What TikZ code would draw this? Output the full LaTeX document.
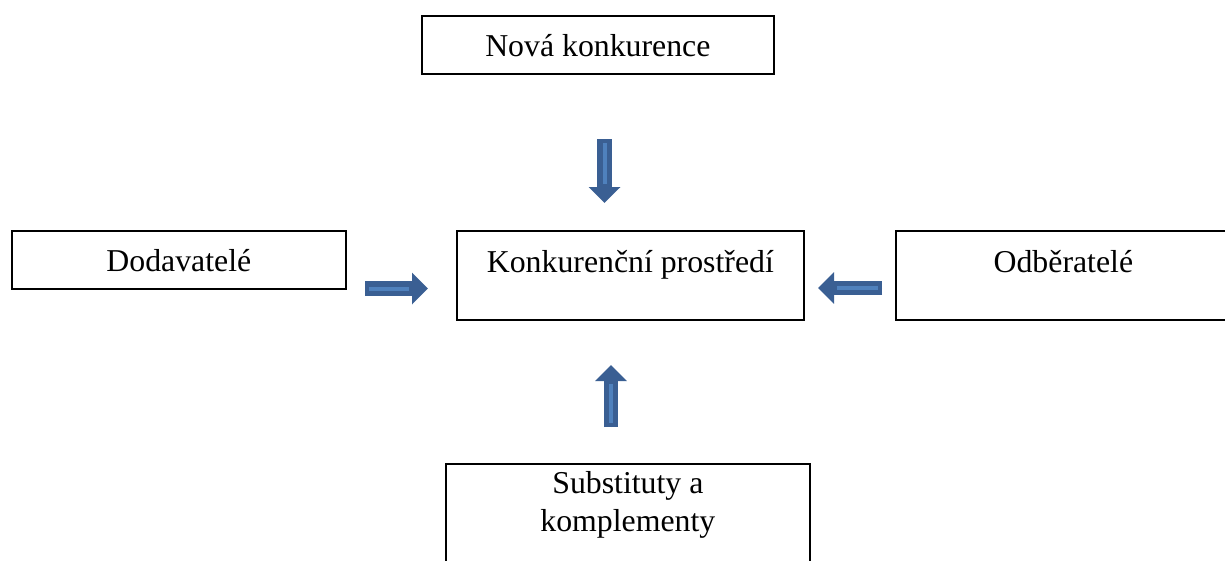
\documentclass[tikz,border=0pt]{standalone}
\usepackage{fontspec}
\setmainfont{Liberation Serif}
\usetikzlibrary{arrows.meta}
\definecolor{arrdark}{HTML}{3A5F93}
\definecolor{arrlight}{HTML}{4F81BD}
\tikzset{
  box/.style={draw=black, line width=1.7pt, fill=white, inner sep=0pt, anchor=north west},
  txt/.style={inner sep=0pt, anchor=base, font=\fontsize{31.8}{37}\selectfont},
  blockarrow/.style={draw=arrdark, line width=14.5pt,
     -{Triangle[width=31pt, length=16pt]}, fill=arrdark},
  stripe/.style={draw=arrlight, line width=4pt}
}
\begin{document}
\begin{tikzpicture}[x=1pt, y=-1pt]
\useasboundingbox (0,0) rectangle (1225,560);
\clip (0,0) rectangle (1225,560);
% boxes
\node[box, minimum width=352pt, minimum height=58pt] (nova) at (421,15) {};
\node[box, minimum width=334pt, minimum height=58pt] (dod) at (11,230) {};
\node[box, minimum width=347pt, minimum height=89pt] (konk) at (456,230) {};
\node[box, minimum width=335pt, minimum height=89pt] (odb) at (895,230) {};
\node[box, minimum width=364pt, minimum height=130pt] (sub) at (445,463) {};
% texts
\node[txt] (novat) at (nova.center |- 0,56) {Nová konkurence};
\node[txt] (dodt) at (dod.center |- 0,271) {Dodavatelé};
\node[txt] (konkt) at (konk.center |- 0,272) {Konkurenční prostředí};
\node[txt] (odbt) at (odb.center |- 0,272) {Odběratelé};
\node[txt] (subt1) at (sub.center |- 0,493) {Substituty a};
\node[txt] (subt2) at (sub.center |- 0,531) {komplementy};
% arrow end points
\coordinate (aRs) at (365,288.5);
\coordinate (aRe) at (428,288.5);
\coordinate (aLs) at (882,288);
\coordinate (aLe) at (818,288);
\coordinate (aDs) at (604.5,139);
\coordinate (aDe) at (604.5,203);
\coordinate (aUs) at (611,427);
\coordinate (aUe) at (611,365);
% block arrows
\draw[blockarrow] (aRs) -- (aRe);
\draw[blockarrow] (aLs) -- (aLe);
\draw[blockarrow] (aDs) -- (aDe);
\draw[blockarrow] (aUs) -- (aUe);
% highlight stripes
\draw[stripe] ([xshift=4pt]aRs) -- ([xshift=-19pt]aRe);
\draw[stripe] ([xshift=-4pt]aLs) -- ([xshift=19pt]aLe);
\draw[stripe] ([yshift=-4pt]aDs) -- ([yshift=19pt]aDe);
\draw[stripe] ([yshift=4pt]aUs) -- ([yshift=-19pt]aUe);
\end{tikzpicture}
\end{document}
